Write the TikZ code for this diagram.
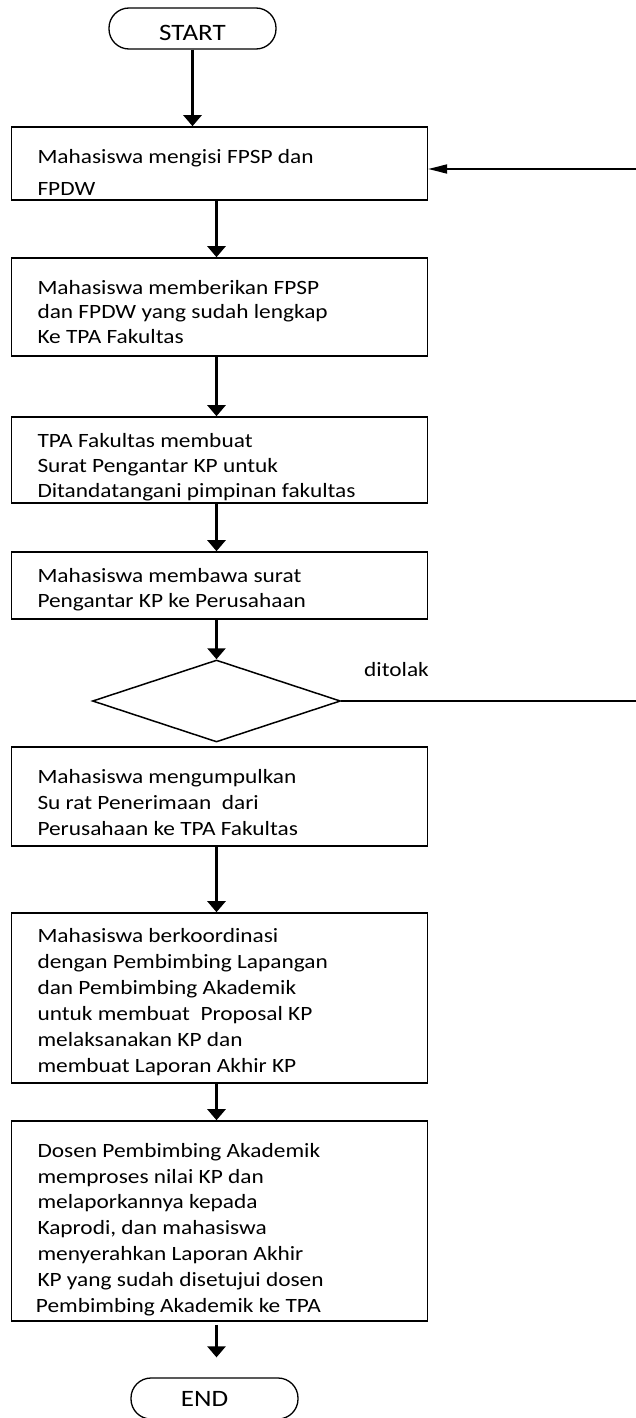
\documentclass[tikz,border=0pt]{standalone}
\usepackage{fontspec}
\setmainfont{Carlito}[FakeStretch=1.15]
\usetikzlibrary{arrows.meta,shapes.geometric}
\begin{document}
\begin{tikzpicture}[x=1pt,y=-1pt,
  box/.style={draw, line width=1.6pt, rectangle, minimum width=416pt, inner sep=0pt},
  txt/.style={anchor=base west, align=left, inner sep=0pt},
  term/.style={draw, line width=1.3pt, rounded corners=20pt, minimum width=167pt, minimum height=41pt, inner sep=0pt, font=\fontsize{23.5}{28}\selectfont},
  dec/.style={draw, line width=1.5pt, diamond, minimum width=248pt, minimum height=82pt, inner sep=0pt},
  flow/.style={line width=2.6pt, -{Triangle[width=18pt,length=11pt]}},
  back/.style={line width=1.8pt, -{Triangle[width=9pt,length=19pt]}},
]
\useasboundingbox (0,0) rectangle (636,1418);

% terminals
\node[term, text height=24pt, text depth=0pt] (start) at (192.5,28.5) {START};
\node[term] (endn) at (214.5,1398.5) {END\hspace*{20pt}};

% process boxes
\node[box, minimum height=73pt]  (b1) at (219.4,163.5) {};
\node[box, minimum height=98pt]  (b2) at (219.4,307) {};
\node[box, minimum height=86pt]  (b3) at (219.4,460) {};
\node[box, minimum height=67pt]  (b4) at (219.4,585.5) {};
\node[dec] (dia) at (216.5,701) {};
\node[box, minimum height=99pt]  (b5) at (219.4,796.5) {};
\node[box, minimum height=170pt] (b6) at (219.4,998) {};
\node[box, minimum height=200pt] (b7) at (219.4,1221) {};

% texts (anchored at the baseline of the last line)
\node[txt, font=\fontsize{20.3}{32}\selectfont] (t1) at (37.3,195) {Mahasiswa mengisi FPSP dan\\FPDW};
\node[txt, font=\fontsize{20.3}{24.5}\selectfont] (t2) at (37.3,343) {Mahasiswa memberikan FPSP\\dan FPDW yang sudah lengkap\\Ke TPA Fakultas};
\node[txt, font=\fontsize{20.3}{25}\selectfont] (t3) at (37.3,497) {TPA Fakultas membuat\\Surat Pengantar KP untuk\\Ditandatangani pimpinan fakultas};
\node[txt, font=\fontsize{20.3}{25}\selectfont] (t4) at (37.3,607) {Mahasiswa membawa surat\\Pengantar KP ke Perusahaan};
\node[txt, font=\fontsize{20.3}{26}\selectfont] (t5) at (37.3,835) {Mahasiswa mengumpulkan\\Su rat Penerimaan\ \ dari\\Perusahaan ke TPA Fakultas};
\node[txt, font=\fontsize{20.3}{26}\selectfont] (t6) at (37.3,1072) {Mahasiswa berkoordinasi\\dengan Pembimbing Lapangan\\dan Pembimbing Akademik\\untuk membuat\ \ Proposal KP\\melaksanakan KP dan\\membuat Laporan Akhir KP};
\node[txt, font=\fontsize{20.3}{25.8}\selectfont] (t7) at (37.3,1312) {Dosen Pembimbing Akademik\\memproses nilai KP dan\\melaporkannya kepada\\Kaprodi, dan mahasiswa\\menyerahkan Laporan Akhir\\KP yang sudah disetujui dosen\\\hspace*{-1.6pt}Pembimbing Akademik ke TPA};
\node[txt, font=\fontsize{20.3}{24}\selectfont] (lbl) at (364,676.7) {ditolak};

% connectors
\draw[flow] (start.south) -- (start.south |- b1.north);
\draw[flow] (b1.south -| dia.north) -- (b2.north -| dia.north);
\draw[flow] (b2.south -| dia.north) -- (b3.north -| dia.north);
\draw[flow] (b3.south -| dia.north) -- (b4.north -| dia.north);
\draw[flow] (b4.south -| dia.north) -- (dia.north);
\draw[flow] (b5.south -| dia.north) -- (b6.north -| dia.north);
\draw[flow] (b6.south -| dia.north) -- (b7.north -| dia.north);
\draw[flow, shorten <=3pt, shorten >=20pt] (b7.south -| dia.north) -- (endn.north -| dia.north);

\coordinate (turn) at (640,701);
\draw[back] (dia.east) -- (turn) |- ([yshift=-5.5pt]b1.east);
\end{tikzpicture}
\end{document}
